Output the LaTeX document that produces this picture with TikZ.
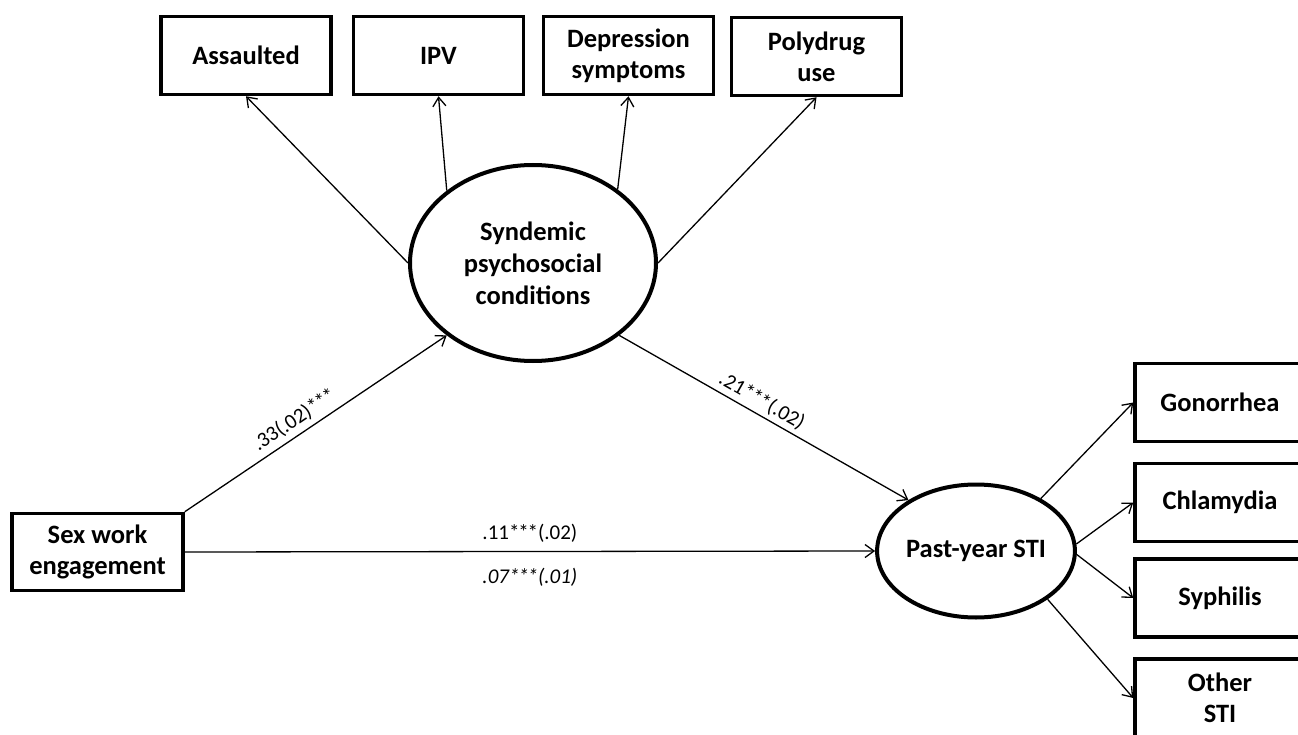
\documentclass[tikz,border=0pt]{standalone}
\usepackage{fontspec}
\setmainfont{Carlito}
\usetikzlibrary{arrows.meta,shapes.geometric}
\newcommand{\trst}{*\kern-1.2pt*\kern-1.2pt*}
\begin{document}
\begin{tikzpicture}[x=1pt,y=-1pt,
  box/.style={draw, line width=3.5pt, minimum width=170pt, minimum height=78pt, inner sep=0pt, align=center, font=\fontsize{26.5}{31}\selectfont\bfseries},
  lat/.style={draw, ellipse, line width=4pt, inner sep=0pt, align=center, font=\fontsize{26.5}{32}\selectfont\bfseries},
  conn/.style={line width=1.3pt, -{Straight Barb[length=9pt,width=13pt,line width=1.3pt]}},
  coef/.style={font=\fontsize{21}{25}\selectfont, inner sep=3pt}
]
\useasboundingbox (0,0) rectangle (1298,735);
\clip (0,0) rectangle (1298,735);
\fill[white] (0,0) rectangle (1298,735);

% top indicators
\node[box] (ass) at (246,55.5) {Assaulted};
\node[box] (ipv) at (438.5,55.5) {IPV};
\node[box] (dep) at (628.5,55.5) {Depression\\symptoms};
\node[box] (poly) at (816.5,56.5) {Polydrug\\use};

% latent variables
\node[lat, minimum width=246pt, minimum height=196pt] (syn) at (533,263) {Syndemic\\psychosocial\\conditions};
\node[lat, minimum width=188pt, minimum height=133pt] (sti) at (976,551) {Past-year STI};

% exogenous
\node[box, minimum width=171pt, minimum height=77pt] (sex) at (97.5,552) {Sex work\\engagement};

% right indicators
\node[box] (gon) at (1220,402.5) {Gonorrhea};
\node[box] (chl) at (1220,502.5) {Chlamydia};
\node[box] (syp) at (1220,598) {Syphilis};
\node[box] (oth) at (1220,698) {Other\\STI};

% connectors to top indicators
\draw[conn] (syn.west) -- (ass.south);
\draw[conn] (syn.140) -- (ipv.south);
\draw[conn] (syn.41) -- (dep.south);
\draw[conn] (syn.east) -- (poly.south);

% structural paths
\draw[conn] (sex.north east) -- node[coef, sloped, above=2pt, pos=0.45] {.33(.02)\trst} (syn.220);
\draw[conn] (syn.-40) -- node[coef, sloped, above=1pt, pos=0.47] {.21\trst(.02)} (sti.143);
\draw[conn] (sex.east) -- node[coef, above=5pt, pos=0.5] {.11\trst(.02)} node[coef, below=13pt, pos=0.5] {\itshape .07\trst(.01)} (sti.west);

% connectors to right indicators
\draw[conn] (sti.39) -- (gon.west);
\draw[conn] (sti.4) -- (chl.west);
\draw[conn] (sti.-2) -- (syp.west);
\draw[conn] (sti.-34) -- (oth.west);
\end{tikzpicture}
\end{document}
